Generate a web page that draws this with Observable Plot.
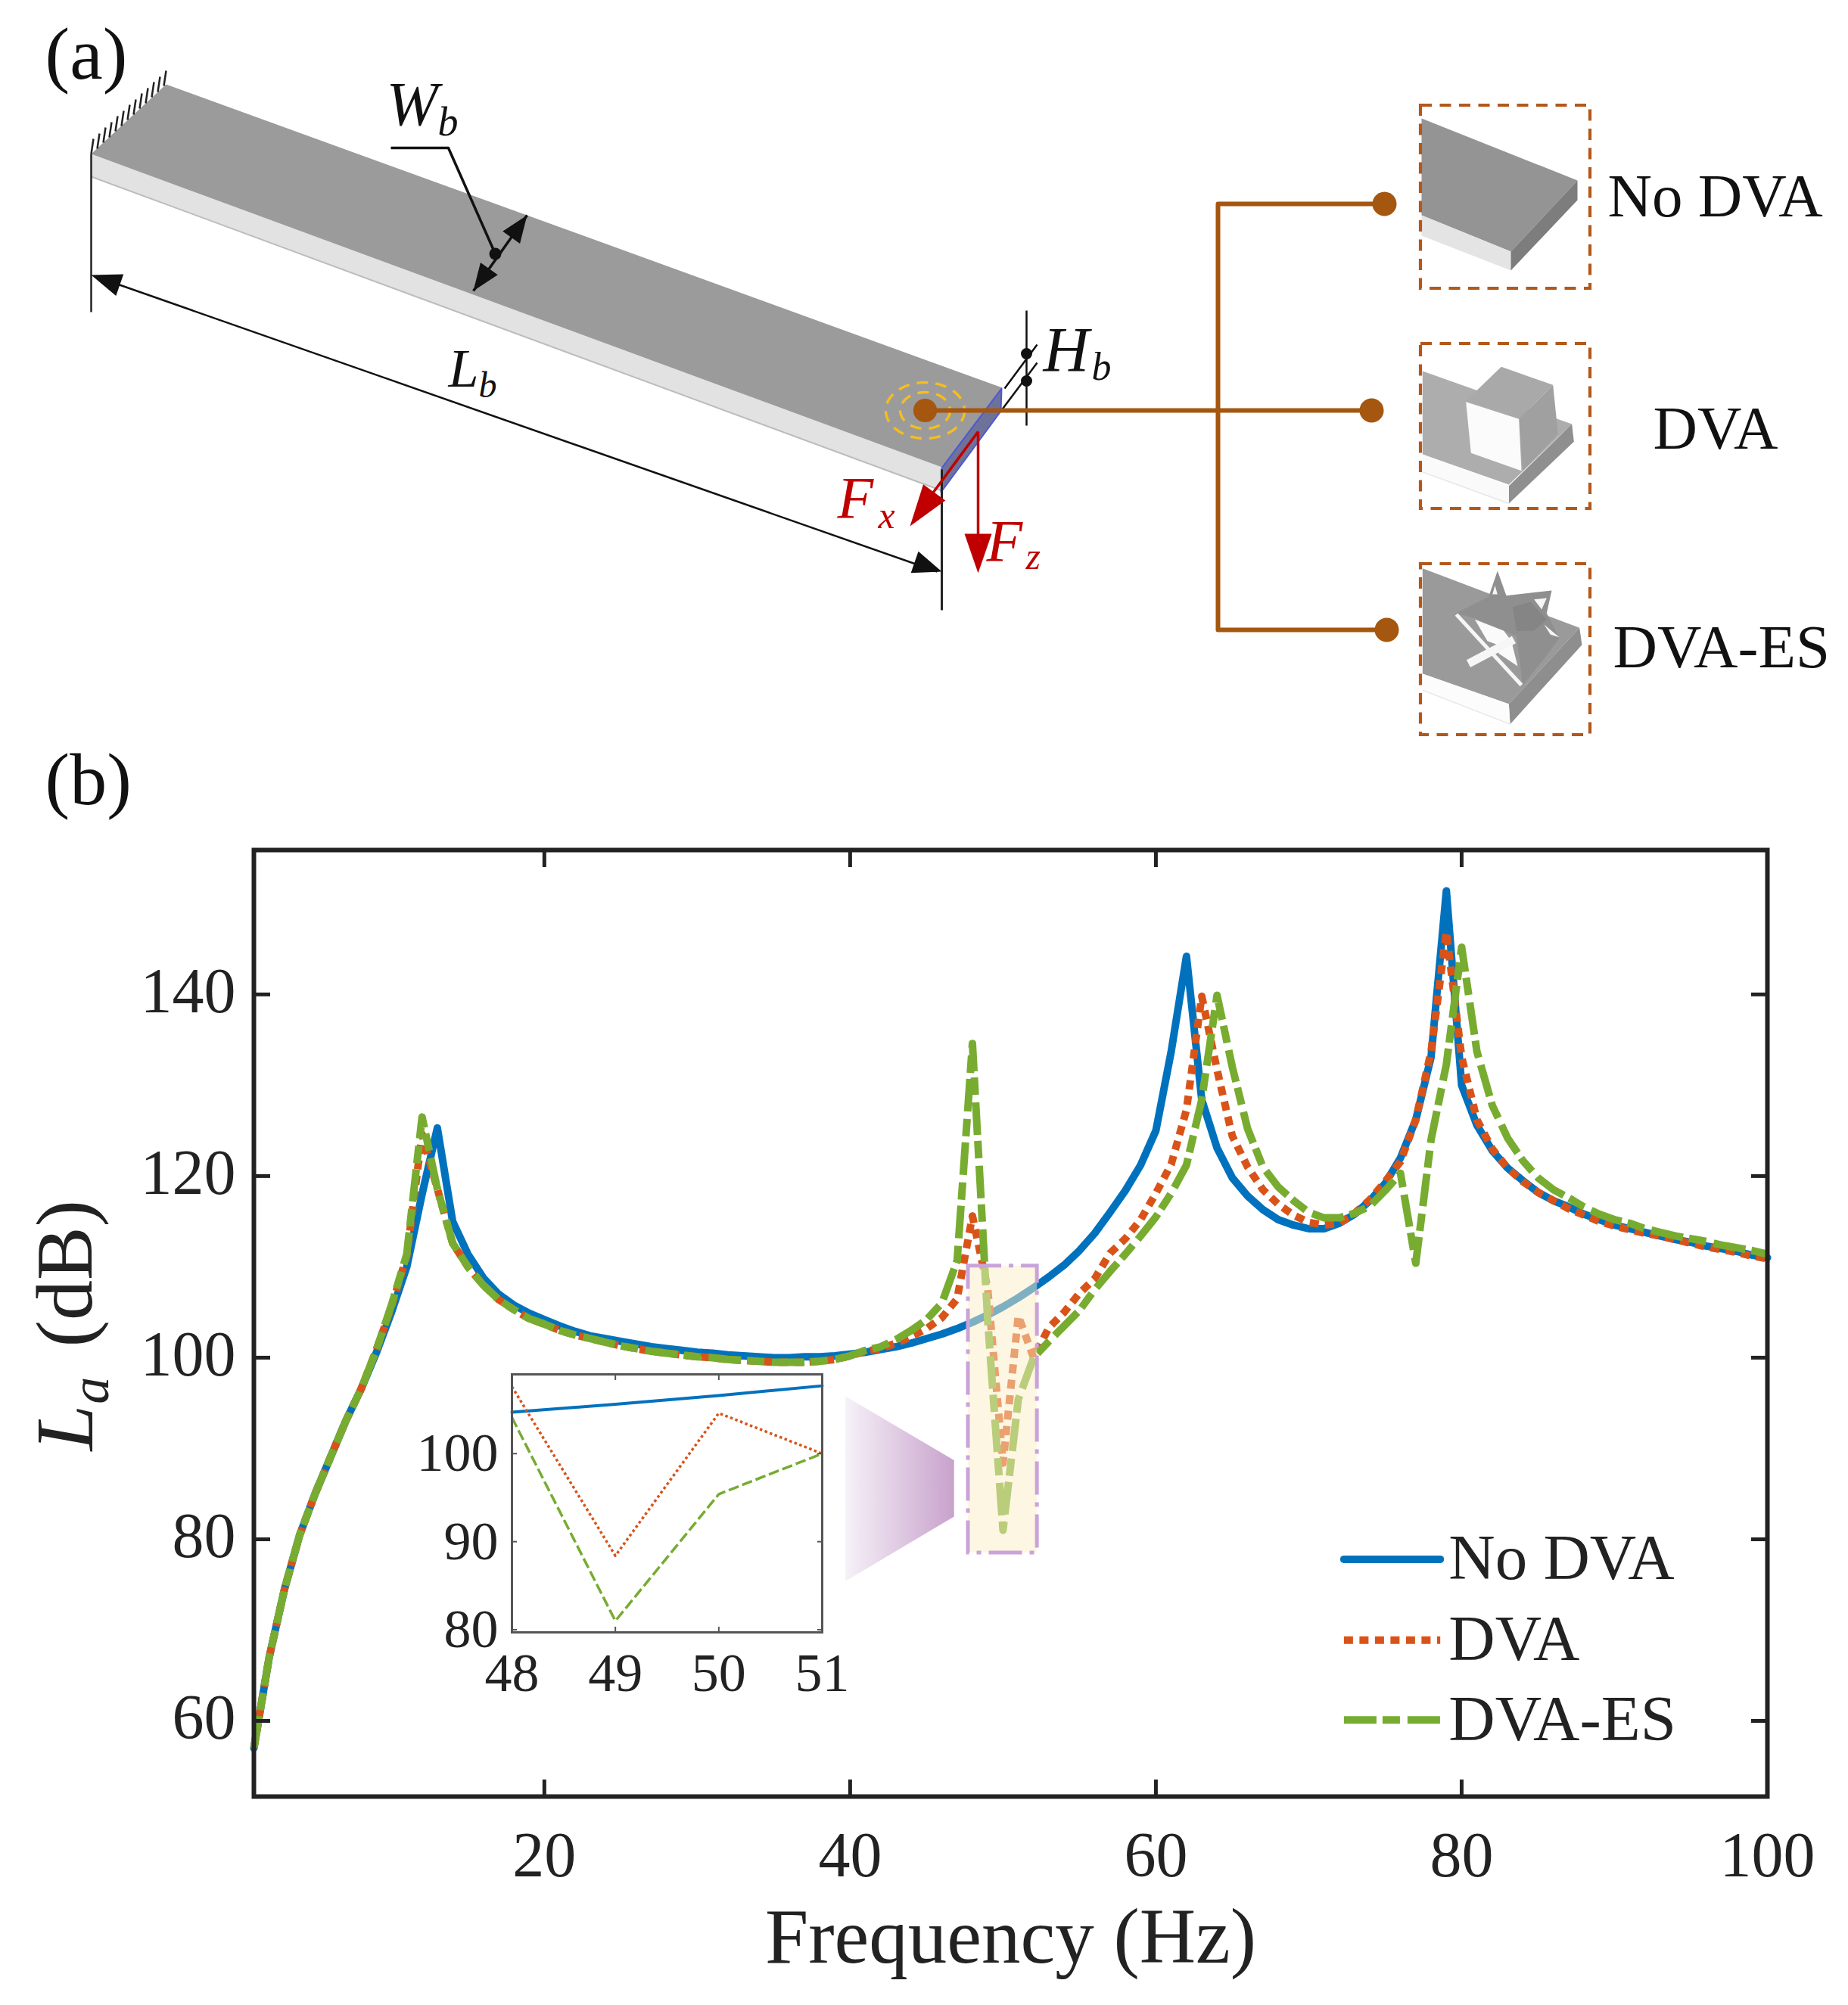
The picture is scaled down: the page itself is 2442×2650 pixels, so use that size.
<!DOCTYPE html>
<html><head><meta charset="utf-8">
<script src="https://cdn.jsdelivr.net/npm/d3@7"></script>
<script src="https://cdn.jsdelivr.net/npm/@observablehq/plot@0.6"></script>
<style>
html,body{margin:0;padding:0;background:#fff}
#page{position:relative;width:2442px;height:2650px;overflow:hidden}
#page svg{display:block;max-width:none}
#inset{position:absolute;left:500px;top:1780px}
</style></head><body><div id="page"><div id="top"></div><div id="main"></div><div id="inset"></div></div>
<script>
// ---------- chart values (frequency = index + 1 Hz) ----------
const noDVA = [57,67,74.5,80.5,85,89,93,96.5,100.5,105,110,118,125.3,
 115,111.4,108.8,107,105.8,104.9,104.2,103.5,102.9,102.4,102.1,101.8,101.5,101.2,101,100.8,100.6,100.5,100.3,100.2,100.1,100,100,100.1,100.1,100.2,100.4,
 100.6,100.9,101.2,101.6,102.1,102.6,103.2,103.9,104.7,105.6,106.6,107.7,108.9,110.2,111.8,113.7,116,118.4,121.2,125,133.7,144.2,128.4,123.1,119.8,117.8,116.3,115.2,114.6,114.2,114.2,114.8,115.8,117.3,119.2,122,126.2,133.1,151.4,130,125.6,122.8,120.9,119.5,118.2,117.3,116.6,115.8,115.2,114.6,
 114.2,113.8,113.4,113,112.7,112.3,112,111.7,111.3,111];
const dva = [57,67,74.5,80.5,85,89,93,96.5,100.8,105.6,111.2,124.6,118.6,
 112.6,110,108,106.4,105.3,104.3,103.7,103,102.5,102.1,101.7,101.3,101,100.7,100.5,100.3,100.1,100,99.8,99.7,99.6,99.5,99.5,99.5,99.6,99.8,100.2,
 100.7,101,101.6,102.3,103.2,104.4,106.5,115.6,107.6,88.4,104.6,100,103.3,105,107.1,108.7,111.5,113.1,115.2,118.1,121.3,127.3,139.8,131.7,124.4,121,118.5,116.9,115.7,114.9,114.6,114.8,115.9,117.4,119.4,121.6,126.2,133.7,146.9,133.1,126.2,123,120.9,119.4,118.2,117.3,116.4,115.7,115,114.5,
 114.1,113.7,113.4,113,112.6,112.2,111.9,111.6,111.2,110.9];
const dvaES = [57,67,74.5,80.5,85,89,93,96.5,100.8,105.8,111.4,126.5,118.6,
 112.6,110,108,106.4,105.3,104.3,103.7,103,102.5,102.1,101.7,101.3,101,100.7,100.5,100.3,100.1,100,99.8,99.7,99.6,99.5,99.5,99.5,99.6,99.8,100.2,
 100.8,101.2,102,103,104.2,106,110.7,134.6,104.1,81,95.4,100,101.8,103.5,105.2,107.5,109.5,111.4,113.4,115.5,118.1,121.2,128.4,139.9,132,125.2,121,118.8,117.3,116,115.4,115.4,115.9,116.7,118.4,120.3,110.4,124,132.3,145.2,133.7,127.8,124.2,121.7,119.8,118.5,117.6,116.6,115.8,115.2,
 114.8,114.2,113.8,113.4,113.1,112.8,112.4,112.1,111.8,111.4];
const xTicks = [20,40,60,80,100];
const yTicks = [60,80,100,120,140];
const insetFreq = [48,49,50,51];
const insetNoDVA = [104.7,105.6,106.6,107.7];
const insetDVA = [107.6,88.4,104.6,100];
const insetES = [104.1,81,95.4,100];
const insetYTicks = [80,90,100];
const legendNames = ["No DVA","DVA","DVA-ES"];

// ---------- styles ----------
const serif = "'Liberation Serif','Times New Roman',serif";
const BLUE="#0072BD", RED="#D95319", GREEN="#77AC30", INK="#222", BROWN="#A5560F", PURPLE="#C9A3D9", FORCE="#C00000";
const seriesStyle = [
 {stroke:BLUE, strokeWidth:10},
 {stroke:RED, strokeWidth:10, strokeDasharray:"12,8.5", strokeLinecap:"butt"},
 {stroke:GREEN, strokeWidth:10, strokeDasharray:"43,8,23,10", strokeLinecap:"butt"}
];
const idx = a => a.map((v,i)=>({f:i+1,v}));

// ---------- main chart (b) ----------
const highlight = [{x1:47.73,x2:52.24,y1:78.5,y2:110.1}];
const wedge = [[39.7,95.75],[46.8,88.7],[46.8,82.5],[39.7,75.4]];
const legendSpan = [72.3,78.6];
const legendY = [77.8,68.9,60.1];
const legendTextY = [75.6,66.75,57.85];

const defs = () => {
  const d = d3.create("svg:defs");
  const g = d.append("linearGradient").attr("id","wedgeGrad").attr("x1","0").attr("x2","1").attr("y1","0").attr("y2","0");
  g.append("stop").attr("offset","0").attr("stop-color","#f6f1f8");
  g.append("stop").attr("offset","1").attr("stop-color","#c8a2cc");
  return d.node();
};
const mainPlot = Plot.plot({
  width:2442, height:1550, marginLeft:335, marginRight:107, marginTop:23, marginBottom:276,
  x:{domain:[1,100]}, y:{domain:[51.67,155.9]},
  style:{fontFamily:serif, background:"transparent", color:INK, overflow:"visible"},
  marks:[
    defs,
    Plot.line(idx(noDVA),{x:"f",y:"v",...seriesStyle[0]}),
    Plot.line(idx(dva),{x:"f",y:"v",...seriesStyle[1]}),
    Plot.line(idx(dvaES),{x:"f",y:"v",...seriesStyle[2]}),
    Plot.rect(highlight,{x1:"x1",x2:"x2",y1:"y1",y2:"y2",fill:"#fbedc6",fillOpacity:0.5}),
    Plot.rect(highlight,{x1:"x1",x2:"x2",y1:"y1",y2:"y2",fill:"none",stroke:PURPLE,strokeWidth:5,strokeDasharray:"44,10,6,10"}),
    Plot.line(wedge,{x:d=>d[0],y:d=>d[1],fill:"url(#wedgeGrad)",stroke:"none"}),
    // legend
    ...legendNames.map((n,i)=>Plot.line(legendSpan.map(x=>({x,y:legendY[i]})),{x:"x",y:"y",...seriesStyle[i]})),
    Plot.text(legendNames.map((n,i)=>({n,y:legendTextY[i]})),{x:()=>79.15,y:"y",text:"n",textAnchor:"start",lineAnchor:"bottom",fontSize:85,fill:INK}),
    // frame & axes
    Plot.frame({stroke:INK,strokeWidth:6}),
    Plot.axisX({ticks:xTicks,tickSize:0,tickPadding:46,fontSize:84,label:null,stroke:INK}),
    Plot.axisX({ticks:xTicks,tickSize:-22,fill:"none",label:null,strokeWidth:5,stroke:INK}),
    Plot.axisX({anchor:"top",ticks:xTicks,tickSize:-22,fill:"none",label:null,strokeWidth:5,stroke:INK}),
    Plot.axisY({ticks:yTicks,tickSize:0,tickPadding:24,fontSize:84,label:null,dy:-3}),
    Plot.axisY({ticks:yTicks,tickSize:-22,fill:"none",label:null,strokeWidth:5,stroke:INK}),
    Plot.axisY({anchor:"right",ticks:yTicks,tickSize:-22,fill:"none",label:null,strokeWidth:5,stroke:INK}),
    // axis titles
    Plot.text(["Frequency (Hz)"],{x:()=>50.5,y:()=>33.4,text:d=>d,fontSize:103,lineAnchor:"bottom",fill:INK}),
    Plot.text(["L"],{x:()=>-9.55,y:()=>89.75,text:d=>d,rotate:-90,fontSize:109,fontStyle:"italic",textAnchor:"start",lineAnchor:"bottom",fill:INK}),
    Plot.text(["a"],{x:()=>-8.55,y:()=>94.9,text:d=>d,rotate:-90,fontSize:72,fontStyle:"italic",textAnchor:"start",lineAnchor:"bottom",fill:INK}),
    Plot.text(["(dB)"],{x:()=>-9.6,y:()=>101.17,text:d=>d,rotate:-90,fontSize:106,textAnchor:"start",lineAnchor:"bottom",fill:INK})
  ]
});
document.getElementById("main").append(mainPlot);

// ---------- inset ----------
const insetPlot = Plot.plot({
  width:660, height:507, marginLeft:176, marginRight:74, marginTop:36, marginBottom:130,
  x:{domain:[48,51]}, y:{domain:[79.7,109]},
  style:{fontFamily:serif, background:"transparent", color:INK, overflow:"visible"},
  marks:[
    Plot.line(insetFreq.map((f,i)=>({f,v:insetNoDVA[i]})),{x:"f",y:"v",stroke:BLUE,strokeWidth:4}),
    Plot.line(insetFreq.map((f,i)=>({f,v:insetDVA[i]})),{x:"f",y:"v",stroke:RED,strokeWidth:3.5,strokeDasharray:"3.5,3.5",strokeLinecap:"butt"}),
    Plot.line(insetFreq.map((f,i)=>({f,v:insetES[i]})),{x:"f",y:"v",stroke:GREEN,strokeWidth:3.5,strokeDasharray:"14,5",strokeLinecap:"butt"}),
    Plot.frame({stroke:"#555",strokeWidth:3}),
    Plot.axisX({ticks:insetFreq,tickSize:0,tickPadding:26,fontSize:72,label:null,tickFormat:d=>d}),
    Plot.axisX({ticks:insetFreq,tickSize:-7,fill:"none",label:null,stroke:"#555",strokeWidth:2}),
    Plot.axisX({anchor:"top",ticks:insetFreq,tickSize:-7,fill:"none",label:null,stroke:"#555",strokeWidth:2}),
    Plot.axisY({ticks:insetYTicks,tickSize:0,tickPadding:18,fontSize:72,label:null}),
    Plot.axisY({ticks:insetYTicks,tickSize:-7,fill:"none",label:null,stroke:"#555",strokeWidth:2}),
    Plot.axisY({anchor:"right",ticks:insetYTicks,tickSize:-7,fill:"none",label:null,stroke:"#555",strokeWidth:2})
  ]
});
document.getElementById("inset").append(insetPlot);

// ---------- schematic (a): geometry in drawing units ----------
const poly = (pts,fill,extra={}) => Plot.line(pts,{x:d=>d[0],y:d=>d[1],fill,stroke:"none",...extra});
const seg = (pts,stroke,strokeWidth,extra={}) => Plot.line(pts,{x:d=>d[0],y:d=>d[1],stroke,strokeWidth,strokeLinecap:"butt",...extra});
const head = (tip,from,len,w,fill) => {
  const dx=from[0]-tip[0],dy=from[1]-tip[1],L=Math.hypot(dx,dy),ux=dx/L,uy=dy/L;
  return poly([tip,[tip[0]+ux*len-uy*w/2,tip[1]+uy*len+ux*w/2],[tip[0]+ux*len+uy*w/2,tip[1]+uy*len-ux*w/2]],fill);
};
const ellipsePts = (cx,cy,rx,ry) => d3.range(0,6.33,0.08).map(t=>[cx+rx*Math.cos(t),cy+ry*Math.sin(t)]);
const label = (s,x,y,size,o={}) => Plot.text([s],{x:()=>x,y:()=>y,text:d=>d,fontSize:size,textAnchor:"start",lineAnchor:"bottom",fill:"#111",...o});
const fromDVA = pts => pts.map(([x,y])=>[1860+x/3,440+y/3]);
const fromES = pts => pts.map(([x,y])=>[1840+x/3,730+y/3]);

const beamTop=[[120,203],[219,111],[1324,512],[1244,617]];
const beamSide=[[120,203],[1244,617],[1244,648],[120,233]];
const beamEnd=[[1244,618],[1323,513],[1322,543],[1243,650]];
const hatchStart=[[120,203],[128,196],[136,188],[144,181],[152,173],[160,166],[168,158],[176,151],[184,143],[192,136],[200,128],[208,121],[216,113]];
const hatch=hatchStart.map(p=>seg([p,[p[0]+3,p[1]-20]],"#222",2.5));
const boxes=[[1877,2101,139,381],[1877,2101,454,672],[1877,2101,745,971]].map(b=>({x1:b[0],x2:b[1],y1:b[2],y2:b[3]}));
const thumbs=[
 // no DVA
 [[[1878,156],[2084,238],[1996,332],[1878,284]],"#949494"],
 [[[1878,284],[1996,332],[1996,357],[1878,311]],"#e4e4e4"],
 [[[1996,332],[2084,238],[2084,264],[1996,357]],"#7d7d7d"],
 // DVA
 [fromDVA([[58,150],[650,360],[400,600],[58,480]]),"#adadad"],
 [fromDVA([[400,605],[650,360],[658,430],[400,675]]),"#8f8f8f"],
 [fromDVA([[58,480],[400,605],[400,675],[58,550]]),"#fafafa"],
 [fromDVA([[230,268],[370,133],[575,205],[440,340]]),"#a9a9a9"],
 [fromDVA([[440,340],[575,205],[595,400],[455,545]]),"#a0a0a0"],
 [fromDVA([[230,272],[440,340],[450,545],[250,475]]),"#fbfbfb"],
 // DVA-ES
 [fromES([[118,62],[740,298],[460,600],[118,480]]),"#9a9a9a"],
 [fromES([[460,600],[740,298],[750,365],[465,680]]),"#8e8e8e"],
 [fromES([[118,480],[460,600],[465,680],[118,545]]),"#fcfcfc"],
 [fromES([[380,175],[415,72],[450,170],[630,150],[610,240],[660,340],[600,420],[515,525],[490,330],[330,262],[250,240]]),"#8f8f8f"],
 [fromES([[475,215],[545,195],[610,265],[560,310],[490,310]]),"#858585"],
 [fromES([[560,185],[610,180],[590,225]]),"#f6f6f6"],
 [fromES([[395,165],[405,130],[415,165]]),"#f6f6f6"],
 [fromES([[600,285],[660,335],[625,325]]),"#f6f6f6"],
 [fromES([[325,265],[440,310],[470,350],[495,450],[420,400],[415,365],[375,350]]),"#fafafa"]
];
const starWhite=[
 fromES([[252,245],[510,525]]),
 fromES([[300,440],[480,345]])
];
const sideLines=[fromDVA([[58,550],[400,675]]), fromES([[118,545],[465,680]])];

const topPlot = Plot.plot({
  width:2442, height:1100, margin:0,
  x:{axis:null,domain:[0,2442],range:[0,2442]}, y:{axis:null,domain:[0,1100],range:[0,1100]},
  style:{fontFamily:serif, background:"transparent", color:"#111"},
  marks:[
    poly(beamSide,"#e2e2e2"), poly(beamTop,"#9b9b9b"), poly(beamEnd,"#6f7298"),
    seg([[120,233],[1244,648]],"#bdbdbd",2),
    seg([[1244,618],[1323,513],[1322,543],[1243,650],[1244,618]],"#4c55d8",2),
    ...hatch,
    seg([[120,203],[120,412]],"#222",2.5), seg([[1244,620],[1244,806]],"#222",3),
    seg([[126,365],[1238,755]],"#111",2.5),
    head([120,363],[1244,757],40,30,"#111"), head([1244,755],[120,363],38,30,"#111"),
    seg([[516,195],[592,195],[654,335]],"#111",3.5),
    seg([[625,384],[696,284]],"#111",3.5),
    head([625,384],[696,284],36,28,"#111"), head([696,284],[625,384],36,28,"#111"),
    Plot.dot([[654,335]],{x:d=>d[0],y:d=>d[1],r:8,fill:"#111"}),
    seg([[1356,410],[1356,562]],"#111",2.5),
    seg([[1327,513],[1370,455]],"#111",2.5), seg([[1322,543],[1370,479]],"#111",2.5),
    Plot.dot([[1356,467],[1356,503]],{x:d=>d[0],y:d=>d[1],r:7.5,fill:"#111"}),
    // source
    seg(ellipsePts(1222,542,52,37),"#F5BD1F",3.4,{strokeDasharray:"15,10"}),
    seg(ellipsePts(1222,542,33,24),"#F5BD1F",3.4,{strokeDasharray:"15,10"}),
    // red forces
    seg([[1292,570],[1233,650]],FORCE,3.5),
    head([1202,695],[1292,570],55,36,FORCE),
    seg([[1292,570],[1292,707]],FORCE,3.5),
    head([1292,757],[1292,570],52,36,FORCE),
    // feed lines
    seg([[1222,542],[1812,542]],BROWN,6),
    seg([[1829,269],[1609,269],[1609,832],[1832,832]],BROWN,6),
    Plot.dot([[1222,542]],{x:d=>d[0],y:d=>d[1],r:15.6,fill:BROWN}),
    Plot.dot([[1829,269],[1812,542],[1832,832]],{x:d=>d[0],y:d=>d[1],r:16,fill:BROWN}),
    // thumbnails
    ...thumbs.map(([p,c])=>poly(p,c)),
    ...sideLines.map(p=>seg(p,"#e6e6e6",1.5)),
    seg(starWhite[0],"#f6f6f6",5),
    seg(starWhite[1],"#f6f6f6",11),
    Plot.rect(boxes,{x1:"x1",x2:"x2",y1:"y1",y2:"y2",fill:"none",stroke:"#B3581B",strokeWidth:4.2,strokeDasharray:"15,10.5"}),
    // text
    label("(a)",59,103,98), label("(b)",59,1062,98),
    label("W",510,164,82,{fontStyle:"italic"}), label("b",578,178,54,{fontStyle:"italic"}),
    label("L",592,510,72,{fontStyle:"italic"}), label("b",632,524,48,{fontStyle:"italic"}),
    label("H",1378,490,84,{fontStyle:"italic"}), label("b",1442,501,52,{fontStyle:"italic"}),
    label("F",1106,683,78,{fontStyle:"italic",fill:FORCE}), label("x",1160,697,50,{fontStyle:"italic",fill:FORCE}),
    label("F",1303,740,78,{fontStyle:"italic",fill:FORCE}), label("z",1355,751,50,{fontStyle:"italic",fill:FORCE}),
    label("No DVA",2124,285,81), label("DVA",2184,592,81), label("DVA-ES",2131,881,81)
  ]
});
document.getElementById("top").append(topPlot);
</script></body></html>
